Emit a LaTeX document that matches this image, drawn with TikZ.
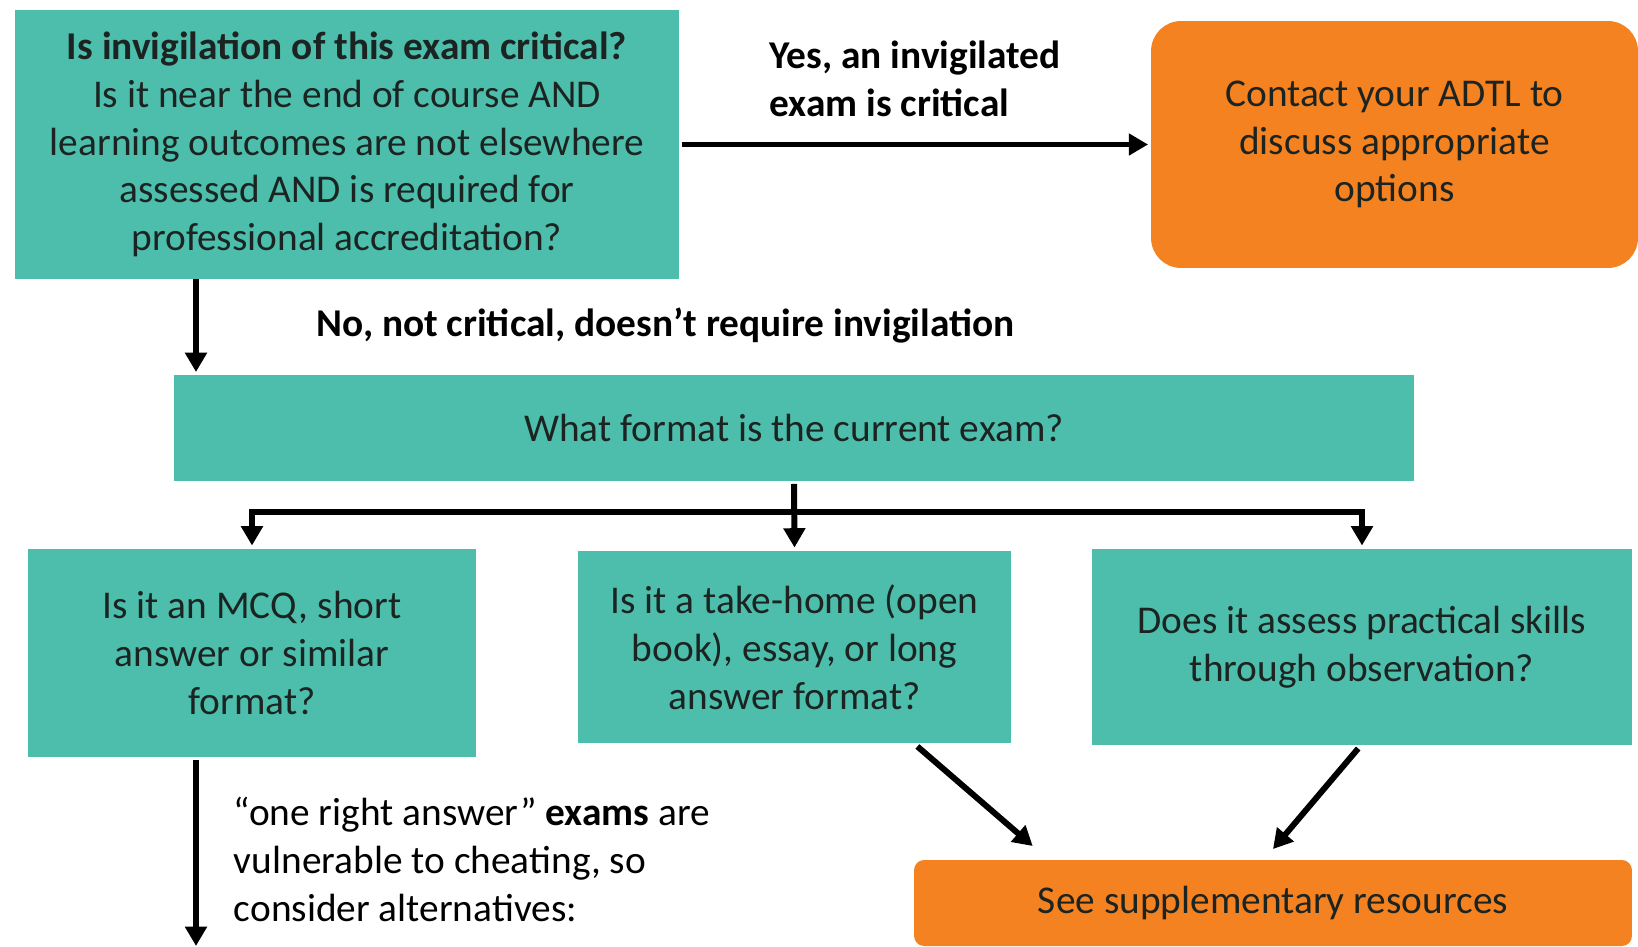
\documentclass[tikz,border=0pt]{standalone}
\usepackage{fontspec}
\setmainfont{Carlito}
\usepackage{xcolor}
\usetikzlibrary{arrows.meta,positioning,calc}
\definecolor{tealbox}{RGB}{77,190,172}
\definecolor{orangebox}{RGB}{245,130,32}
\definecolor{txt}{RGB}{28,36,34}

\begin{document}
\begin{tikzpicture}[x=0.02cm,y=-0.02cm,>={Triangle[length=11pt,width=12pt]},
  font=\fontsize{22.4}{27.2}\selectfont,
  line width=3.4pt,
  qbox/.style={fill=tealbox,text=txt,align=center,inner sep=0pt},
  obox/.style={fill=orangebox,text=txt,align=center,inner sep=0pt},
  lbl/.style={text=black,align=left,inner sep=0pt}]
  \useasboundingbox (0,0) rectangle (1638,946);
  % boxes
  \node[qbox,minimum width=13.28cm,minimum height=5.38cm] (crit) at (347,144.5)
    {\textbf{Is invigilation of this exam critical?}\\Is it near the end of course AND\\learning outcomes are not elsewhere\\assessed AND is required for\\professional accreditation?};
  \node[obox,rounded corners=0.6cm,minimum width=9.74cm,minimum height=4.94cm] (adtl) at (1394.5,144.5)
    {Contact your ADTL to\\discuss appropriate\\options};
  \node[qbox,minimum width=24.82cm,minimum height=2.12cm] (fmt) at (794,428)
    {What format is the current exam?};
  \node[qbox,minimum width=8.96cm,minimum height=4.18cm] (mcq) at (252,653)
    {Is it an MCQ, short\\answer or similar\\format?};
  \node[qbox,minimum width=8.66cm,minimum height=3.86cm] (take) at (794.5,647)
    {Is it a take-home (open\\book), essay, or long\\answer format?};
  \node[qbox,minimum width=10.8cm,minimum height=3.94cm] (prac) at (1362,647)
    {Does it assess practical skills\\through observation?};
  \node[obox,rounded corners=0.2cm,minimum width=14.36cm,minimum height=1.72cm] (supp) at (1273,903)
    {See supplementary resources};
  % free ends
  \coordinate (nocrit) at (196,279);
  \coordinate (split) at (794,512);
  \coordinate (alt) at (196,946);
  % connectors
  \draw[->] (crit.east) -- node[lbl,above=0.5cm]{\textbf{Yes, an invigilated}\\\textbf{exam is critical}} (adtl.west);
  \draw[->] (nocrit) -- node[lbl,right=2.35cm]{\textbf{No, not critical, doesn’t require invigilation}} (nocrit |- fmt.north);
  \draw[->] (fmt.south) -- (take.north);
  \draw[->] (split) -| (mcq.north);
  \draw[->] (split) -| (prac.north);
  \draw[->] (alt |- mcq.south) -- node[lbl,pos=0.535,right=0.7cm]{“one right answer” \textbf{exams} are\\vulnerable to cheating, so\\consider alternatives:} (alt);
  \draw[->] ($(take.south west)!0.78!(take.south east)$) -- ($(supp.north west)!0.168!(supp.north east)+(0,-11)$);
  \draw[->] ($(prac.south west)!0.493!(prac.south east)$) -- ($(supp.north west)!0.50!(supp.north east)+(0,-8)$);
\end{tikzpicture}
\end{document}
